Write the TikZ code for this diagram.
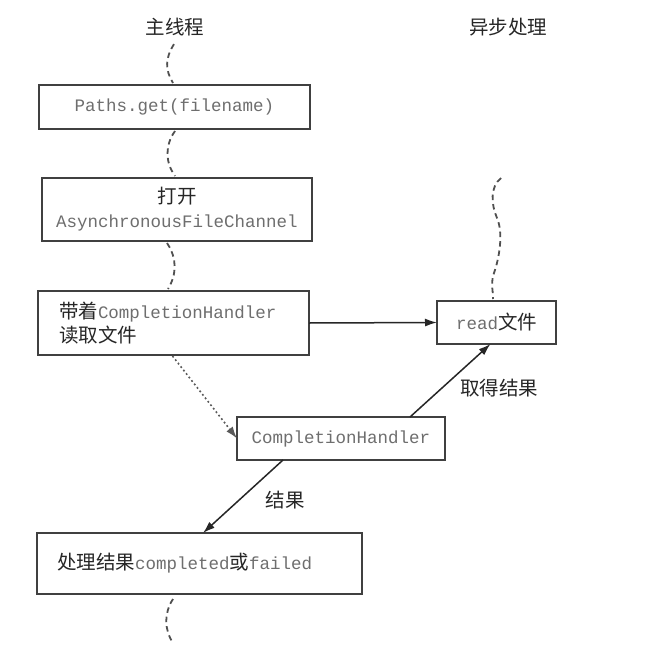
\documentclass[tikz,border=0pt]{standalone}
\usepackage{fontspec}
\setmonofont{Liberation Mono}
\newfontfamily\cjk{Noto Sans CJK SC}
\usetikzlibrary{arrows.meta,calc}
\definecolor{codegray}{HTML}{6E6E6E}
\definecolor{txtdark}{HTML}{262626}
\definecolor{boxline}{HTML}{404040}
\definecolor{wavecol}{HTML}{505050}
\newcommand\cdx[1]{{\color{codegray}\fontsize{17.5}{24}\ttfamily #1}}
\begin{document}
\begin{tikzpicture}[x=1pt,y=-1pt,
  every node/.style={font=\cjk\fontsize{19.5}{24}\selectfont, text=txtdark},
  box/.style={draw=boxline, line width=1.8pt, inner sep=0pt, outer sep=0pt},
  wave/.style={draw=wavecol, line width=1.8pt, dash pattern=on 5.5pt off 4pt},
  arr/.style={draw=black!85, line width=1.5pt, -{Latex[length=12pt,width=8pt]}},
  dotarr/.style={draw=black!65, line width=1.6pt, dash pattern=on 1.8pt off 2.6pt, -{Latex[length=12pt,width=8pt]}},
  lbl/.style={inner sep=0pt, anchor=west}]
\fill[white] (0,0) rectangle (650,656);
\useasboundingbox (0,0) rectangle (650,656);

% titles
\node[inner sep=0pt] (t1) at (175,27) {主线程};
\node[inner sep=0pt] (t2) at (508,27) {异步处理};

% boxes
\node[box, minimum width=271pt, minimum height=44pt] (b1) at (174.5,107) {\cdx{Paths.get(filename)}};
\node[box, minimum width=270pt, minimum height=63pt, align=center] (b2) at (177,209.5) {打开\\\cdx{AsynchronousFileChannel}};
\node[box, minimum width=271pt, minimum height=64pt, text width=229pt, align=left] (b3) at (173.5,323) {带着\cdx{CompletionHandler}\\读取文件};
\node[box, minimum width=119pt, minimum height=43pt] (rd) at (496.5,322.5) {\cdx{read}文件};
\node[box, minimum width=208pt, minimum height=43pt] (ch) at (341,438.5) {\cdx{CompletionHandler}};
\node[box, minimum width=325pt, minimum height=61pt, text width=285pt, align=left] (fin) at (199.5,563.5) {处理结果\cdx{completed}或\cdx{failed}};

% free ends
\coordinate (rtop) at (501,178);
\coordinate (mend) at (173,643);

% wavy thread lines
\draw[wave] ($(t1.south)+(-1,8)$) .. controls +(-9,14) and +(-8,-13) .. ($(b1.north)+(-1.5,-2)$);
\draw[wave] ($(b1.south)+(0.5,2)$) .. controls +(-10,14) and +(-10,-14) .. ($(b2.north)+(-2,-2)$);
\draw[wave] ($(b2.south)+(-10,2)$) .. controls +(10,15) and +(9,-15) .. ($(b3.north)+(-5.5,-2)$);
\draw[wave] ($(fin.south)+(-26.5,5)$) .. controls +(-9,14) and +(-9,-14) .. (mend);
\draw[wave] (rtop) .. controls +(-11,9) and +(-6,-14) .. (497,218)
  .. controls +(6,14) and +(5,-16) .. (495,270)
  .. controls +(-5,14) and +(0,-12) .. ($(rd.north)+(-3.5,-2)$);

% arrows
\draw[arr] (b3.east) -- (rd.west);
\draw[dotarr] ($(b3.south)+(-1,1)$) -- (ch.west);
\draw[arr] ($(ch.north east)+(-35,0)$) -- node[lbl, xshift=9pt, yshift=-8pt] (l1) {取得结果} ($(rd.south)+(-6,0)$);
\draw[arr] ($(ch.south)+(-58,0)$) -- node[lbl, xshift=22pt, yshift=-4pt] (l2) {结果} ($(fin.north)+(3.5,0)$);
\end{tikzpicture}
\end{document}
